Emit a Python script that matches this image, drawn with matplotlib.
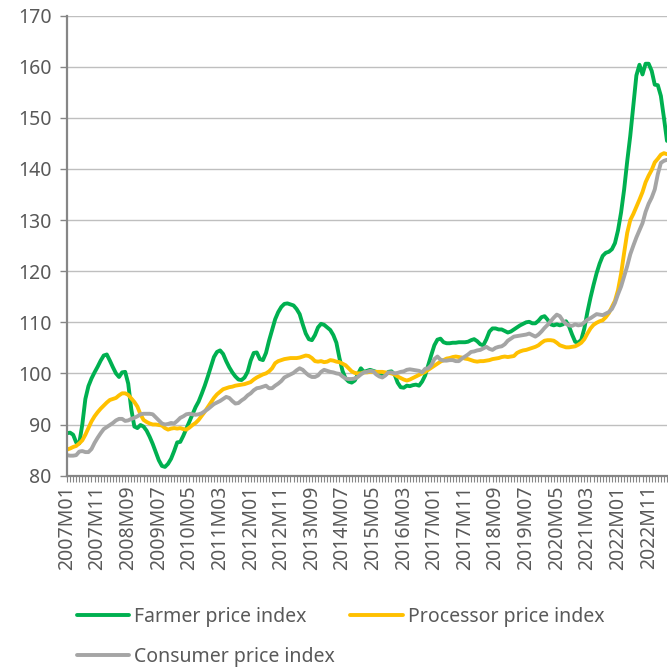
import matplotlib
matplotlib.use("Agg")
import matplotlib.pyplot as plt
import pandas as pd

# Monthly indices, 2007M01 .. 2023M05
farmer = [
    88.3, 88.4, 88.0, 86.5, 86.3, 90.0, 95.0, 97.5, 99.0, 100.2,
    101.3, 102.5, 103.5, 103.7, 102.5, 101.2, 100.0, 99.3, 100.2, 100.3,
    98.0, 93.0, 89.6, 89.3, 89.9, 89.6, 88.8, 87.6, 86.2, 84.6,
    83.0, 81.9, 81.7, 82.3, 83.3, 84.8, 86.5, 86.6, 87.8, 89.2,
    90.6, 92.0, 93.4, 94.5, 96.0, 97.6, 99.4, 101.3, 103.2, 104.2,
    104.5, 103.8, 102.4, 101.2, 100.2, 99.4, 98.8, 98.7, 99.2, 100.3,
    102.5, 104.0, 104.1, 102.8, 102.6, 104.0, 106.4, 108.5, 110.6, 112.0,
    113.0, 113.6, 113.7, 113.5, 113.3, 112.6, 111.6, 109.6, 107.8, 106.7,
    106.5, 107.5, 109.0, 109.7, 109.5, 109.0, 108.5, 107.5, 106.0, 103.0,
    100.5, 99.0, 98.4, 98.2, 98.6, 99.8, 101.0, 100.3, 100.5, 100.7,
    100.5, 100.3, 99.9, 99.5, 99.8, 100.3, 100.4, 99.8, 98.2, 97.3,
    97.2, 97.6, 97.5, 97.7, 97.8, 97.6, 98.4, 99.6, 101.6, 103.6,
    105.5, 106.6, 106.8, 106.1, 105.9, 105.9, 106.0, 106.0, 106.1, 106.1,
    106.1, 106.2, 106.5, 106.7, 106.3, 105.7, 105.5, 106.7, 108.2, 108.8,
    108.8, 108.6, 108.6, 108.3, 108.0, 108.2, 108.6, 109.0, 109.4, 109.7,
    110.0, 110.1, 109.8, 109.8, 110.3, 111.0, 111.2, 110.5, 109.6, 109.4,
    109.6, 109.4, 109.6, 110.2, 109.2, 107.6, 106.2, 106.0, 106.6, 108.8,
    112.0, 114.8, 117.3, 119.6, 121.5, 123.0, 123.6, 123.8, 124.3, 125.5,
    128.0, 131.5, 136.0, 141.5, 146.5, 152.5, 158.3, 160.4, 158.5, 160.6,
    160.6, 159.2, 156.5, 156.4, 154.3, 150.0, 145.5,
]

processor = [
    85.1, 85.3, 85.6, 85.8, 86.3, 86.9, 88.0, 89.3, 90.6, 91.6,
    92.4, 93.1, 93.7, 94.3, 94.8, 95.0, 95.2, 95.7, 96.1, 96.1,
    95.8, 95.1, 94.4, 93.5, 92.0, 90.9, 90.5, 90.2, 90.0, 90.0,
    89.9, 89.8, 89.3, 89.0, 89.2, 89.3, 89.2, 89.3, 89.1, 89.0,
    89.4, 89.9, 90.3, 90.9, 91.7, 92.5, 93.4, 94.3, 95.2, 95.9,
    96.4, 96.9, 97.1, 97.3, 97.4, 97.6, 97.7, 97.8, 97.9, 98.1,
    98.3, 98.8, 99.2, 99.5, 99.8, 100.0, 100.4, 101.0, 102.0, 102.4,
    102.6, 102.8, 102.9, 103.0, 103.0, 103.0, 103.1, 103.3, 103.5, 103.4,
    103.0, 102.4, 102.3, 102.4, 102.2, 102.3, 102.6, 102.5, 102.3, 102.2,
    101.9, 101.6, 101.0, 100.4, 100.1, 100.0, 100.0, 100.2, 100.2, 100.3,
    100.3, 100.3, 100.3, 100.3, 100.2, 100.1, 100.0, 99.8, 99.4, 99.1,
    98.8, 98.6, 98.8, 99.1, 99.4, 99.7, 100.0, 100.3, 100.7, 101.1,
    101.5, 101.9, 102.3, 102.6, 102.9, 103.0, 103.2, 103.3, 103.2, 103.1,
    102.9, 102.8, 102.6, 102.4, 102.3, 102.4, 102.4, 102.5, 102.6, 102.8,
    102.9, 103.0, 103.2, 103.3, 103.2, 103.3, 103.4, 104.0, 104.3, 104.5,
    104.6, 104.8, 105.0, 105.2, 105.5, 106.0, 106.4, 106.5, 106.5, 106.4,
    106.0, 105.5, 105.3, 105.1, 105.1, 105.2, 105.3, 105.6, 106.0, 106.7,
    107.8, 108.8, 109.5, 109.9, 110.2, 110.4, 111.0, 111.8, 113.0, 114.2,
    116.3, 119.5, 123.6, 127.5, 130.0, 131.2, 132.6, 134.0, 135.5, 137.4,
    138.7, 139.8, 141.3, 142.0, 142.8, 143.1, 142.9,
]

consumer = [
    84.0, 83.9, 83.9, 84.0, 84.7, 84.8, 84.6, 84.6, 85.2, 86.4,
    87.4, 88.3, 89.1, 89.5, 89.9, 90.3, 90.8, 91.1, 91.1, 90.7,
    90.8, 91.1, 91.3, 91.6, 92.0, 92.1, 92.1, 92.1, 92.0, 91.4,
    90.8, 90.2, 90.0, 90.1, 90.3, 90.2, 90.7, 91.3, 91.6, 92.0,
    92.1, 92.0, 91.9, 92.0, 92.2, 92.6, 93.0, 93.5, 94.0, 94.3,
    94.6, 95.0, 95.4, 95.2, 94.6, 94.1, 94.2, 94.7, 95.1, 95.7,
    96.1, 96.7, 97.1, 97.2, 97.4, 97.6, 97.1, 97.1, 97.6, 98.0,
    98.5, 99.2, 99.5, 99.8, 100.1, 100.6, 101.0, 100.7, 100.1, 99.6,
    99.3, 99.3, 99.6, 100.3, 100.7, 100.5, 100.3, 100.2, 100.0, 99.9,
    99.4, 99.0, 98.9, 98.9, 99.0, 99.3, 99.8, 100.2, 100.3, 100.5,
    100.4, 99.8, 99.4, 99.2, 99.6, 100.2, 100.2, 100.0, 100.1, 100.3,
    100.4, 100.7, 100.8, 100.7, 100.6, 100.5, 100.2, 100.9, 101.0, 101.6,
    102.8, 103.3, 102.7, 102.5, 102.5, 102.6, 102.6, 102.4, 102.4, 102.9,
    103.3, 103.7, 104.2, 104.3, 104.5, 104.6, 104.9, 105.2, 104.8, 104.6,
    105.0, 105.2, 105.3, 105.7, 106.4, 106.8, 107.2, 107.3, 107.4, 107.5,
    107.6, 107.8, 107.5, 107.2, 107.6, 108.2, 108.9, 109.5, 110.2, 110.9,
    111.5, 111.2, 110.3, 109.7, 109.4, 109.3, 109.6, 109.4, 109.5, 110.0,
    110.5, 110.8, 111.2, 111.6, 111.5, 111.4, 111.7, 112.0, 112.6, 113.8,
    115.5, 117.0, 119.0, 121.0, 123.3, 125.0, 126.6, 128.0, 129.4, 131.6,
    133.2, 134.4, 136.0, 139.0, 141.2, 141.6, 141.8,
]

months = [f"{p.year}M{p.month:02d}" for p in pd.period_range("2007-01", periods=len(farmer), freq="M")]
series_names = ["Farmer price index", "Processor price index", "Consumer price index"]
colors = ["#00B050", "#FFC000", "#A5A5A5"]

txt = "#595959"
axc = "#868686"
plt.rcParams["font.family"] = ["Noto Sans", "DejaVu Sans"]

fig = plt.figure(figsize=(6.68, 6.68), dpi=100)
ax = fig.add_axes([67 / 668, 1 - 475.6 / 668, 600 / 668, (475.6 - 15.7) / 668])

x = list(range(len(months)))
lines = []
for vals, name, c in zip([farmer, processor, consumer], series_names, colors):
    ln, = ax.plot(x, vals, color=c, lw=2.8, label=name, solid_joinstyle="round", solid_capstyle="round")
    lines.append(ln)

ax.set_xlim(0, len(months) - 1)
ax.set_ylim(80, 170)
ax.set_yticks(range(80, 171, 10))
ax.grid(axis="y", color="#BFBFBF", lw=1.0)
ax.set_axisbelow(True)

ax.set_xticks(x[::10])
ax.set_xticklabels(months[::10], rotation=90)
ax.set_xticks(x, minor=True)

for s in ["top", "right"]:
    ax.spines[s].set_visible(False)
for s in ["left", "bottom"]:
    ax.spines[s].set_color(axc)
    ax.spines[s].set_linewidth(1.6)

ax.tick_params(axis="y", length=5, width=1, color=axc, labelsize=14, labelcolor=txt, pad=6)
ax.tick_params(axis="x", which="both", length=4, width=0.8, color=axc, labelsize=14, labelcolor=txt, pad=3)

# legend reads row-wise: Farmer, Processor / Consumer
order = [0, 2, 1]
ax.legend([lines[i] for i in order], [series_names[i] for i in order],
          loc="upper left", bbox_to_anchor=(0.003, -0.268), ncol=2, frameon=False,
          fontsize=14, labelcolor=txt, handlelength=2.7, handletextpad=0.25,
          columnspacing=0.8, labelspacing=1.05, borderaxespad=0)

fig.savefig("out.png", dpi=100)
